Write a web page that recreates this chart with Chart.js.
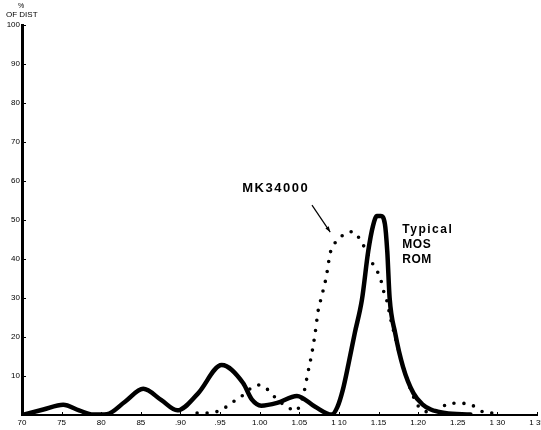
<!DOCTYPE html>
<html>
<head>
<meta charset="utf-8">
<script src="https://cdn.jsdelivr.net/npm/chart.js@4/dist/chart.umd.min.js"></script>
<style>
  html, body { margin: 0; padding: 0; background: #fff; }
  #wrap { width: 541px; height: 430px; position: relative; }
</style>
</head>
<body>
<div id="wrap"><canvas id="chart"></canvas></div>
<script>
/* ── Data ───────────────────────────────────────────────── */

// Typical MOS ROM (solid line)
const romX = [0.700, 0.727, 0.752, 0.772, 0.790, 0.807, 0.830, 0.853, 0.876, 0.896,
  0.922, 0.952, 0.979, 0.990, 1.002, 1.022, 1.047, 1.070, 1.091, 1.098, 1.105, 1.112, 1.120,
  1.129, 1.137, 1.143, 1.148, 1.153, 1.158, 1.161, 1.164, 1.171, 1.181, 1.194, 1.205,
  1.216, 1.234, 1.266];
const romY = [0, 1.4, 2.6, 1.2, 0.1, 0.2, 3.4, 6.7, 3.8, 1.2,
  5.5, 12.8, 8.2, 4.0, 2.4, 3.1, 4.9, 2.1, 0.1, 2.0, 6.5, 13, 21,
  29.5, 42, 48.5, 51, 51, 49, 42, 30, 21, 12.3, 5.6, 2.8,
  1.4, 0.5, 0.1];

// MK34000 (dotted line)
const mkX = [0.921, 0.937, 0.953, 0.966, 0.979, 0.989, 0.999, 1.009, 1.019, 1.028,
  1.037, 1.045, 1.052, 1.056, 1.061, 1.066, 1.070, 1.074, 1.077, 1.084, 1.089, 1.094,
  1.102, 1.110, 1.118, 1.126, 1.134, 1.142, 1.148, 1.153, 1.156, 1.160, 1.166, 1.171,
  1.181, 1.196, 1.202, 1.213, 1.227, 1.239, 1.253, 1.267, 1.282, 1.293, 1.300];
const mkY = [0.5, 0.5, 1.5, 3.3, 5.1, 6.9, 7.7, 6.7, 4.6, 3.0,
  1.8, 1.0, 3.1, 5.9, 11, 16, 21, 27, 29.5, 35.4, 41.5, 43.8,
  45.6, 46.7, 47, 45.2, 42.3, 39, 37, 34.6, 32, 29.7, 24, 20,
  12.3, 3.8, 1.8, 0.8, 1.5, 3.0, 3.0, 2.6, 0.8, 0.5, 1.3];

// Axis ticks
const xTicks = [0.70, 0.75, 0.80, 0.85, 0.90, 0.95, 1.00, 1.05, 1.10, 1.15, 1.20, 1.25, 1.30, 1.35];
const xTickLabels = ['70', '75', '80', '85', '.90', '.95', '1.00', '1.05', '1 10', '1.15', '1.20', '1.25', '1 30', '1 35'];
const yTicks = [10, 20, 30, 40, 50, 60, 70, 80, 90, 100];

/* ── Helpers ─────────────────────────────────────────────── */

const FONT = '"Liberation Sans", Arial, Helvetica, sans-serif';

function toPoints(xs, ys) {
  return xs.map((x, i) => ({ x, y: ys[i] }));
}

function fixedSize(prop, size) {
  return (scale) => {
    scale[prop] = size;
    scale.paddingLeft = 0;
    scale.paddingRight = 0;
    scale.paddingTop = 0;
    scale.paddingBottom = 0;
  };
}

// Inward tick marks, title, series labels and arrow
const labelPlugin = {
  id: 'labels',
  afterDraw(chart) {
    const { ctx, chartArea, scales: { x, y } } = chart;
    ctx.save();
    ctx.fillStyle = '#000';
    ctx.strokeStyle = '#000';
    ctx.lineWidth = 1;

    // tick marks pointing into the plot
    ctx.beginPath();
    yTicks.forEach(v => {
      const py = Math.round(y.getPixelForValue(v)) + 0.5;
      ctx.moveTo(chartArea.left, py);
      ctx.lineTo(chartArea.left + 4, py);
    });
    xTicks.forEach(v => {
      const px = Math.round(x.getPixelForValue(v)) + 0.5;
      ctx.moveTo(px, chartArea.bottom);
      ctx.lineTo(px, chartArea.bottom - 3);
    });
    ctx.stroke();

    ctx.textBaseline = 'alphabetic';

    // y-axis title
    ctx.font = `7px ${FONT}`;
    ctx.textAlign = 'center';
    ctx.fillText('%', 21, 8);
    ctx.font = `8px ${FONT}`;
    ctx.textAlign = 'left';
    ctx.fillText('OF DIST', 6, 17);

    // MK34000
    ctx.font = `bold 13px ${FONT}`;
    ctx.letterSpacing = '1.5px';
    ctx.fillText('MK34000', x.getPixelForValue(0.978), y.getPixelForValue(57.2));

    // Typical MOS ROM
    ctx.font = `bold 12px ${FONT}`;
    const tx = x.getPixelForValue(1.18);
    ctx.letterSpacing = '1.5px';
    ctx.fillText('Typical', tx, y.getPixelForValue(46.7));
    ctx.letterSpacing = '0.5px';
    ctx.fillText('MOS', tx, y.getPixelForValue(42.8));
    ctx.fillText('ROM', tx, y.getPixelForValue(39.0));
    ctx.letterSpacing = '0px';

    // arrow
    const x1 = x.getPixelForValue(1.066), y1 = y.getPixelForValue(53.8);
    const x2 = x.getPixelForValue(1.089), y2 = y.getPixelForValue(46.9);
    ctx.lineWidth = 1.2;
    ctx.beginPath();
    ctx.moveTo(x1, y1);
    ctx.lineTo(x2, y2);
    ctx.stroke();
    const a = Math.atan2(y2 - y1, x2 - x1);
    ctx.beginPath();
    ctx.moveTo(x2, y2);
    ctx.lineTo(x2 - 6 * Math.cos(a - 0.35), y2 - 6 * Math.sin(a - 0.35));
    ctx.lineTo(x2 - 6 * Math.cos(a + 0.35), y2 - 6 * Math.sin(a + 0.35));
    ctx.closePath();
    ctx.fill();
    ctx.restore();
  },
};

/* ── Chart ───────────────────────────────────────────────── */

Chart.defaults.font.family = FONT;
Chart.defaults.color = '#000';

// eslint-disable-next-line no-undef
new Chart(document.getElementById('chart'), {
  type: 'line',
  data: {
    datasets: [
      {
        label: 'Typical MOS ROM',
        data: toPoints(romX, romY),
        borderColor: '#000',
        borderWidth: 4.5,
        pointRadius: 0,
        cubicInterpolationMode: 'monotone',
        borderCapStyle: 'round',
        borderJoinStyle: 'round',
      },
      {
        label: 'MK34000',
        data: toPoints(mkX, mkY),
        borderColor: '#000',
        borderWidth: 3.6,
        borderDash: [0, 10],
        borderCapStyle: 'round',
        pointRadius: 0,
        cubicInterpolationMode: 'monotone',
      },
    ],
  },
  options: {
    responsive: true,
    maintainAspectRatio: false,
    animation: false,
    layout: { padding: { left: 0, top: 25, right: 4, bottom: 0 } },
    plugins: {
      legend: { display: false },
      tooltip: { enabled: false },
    },
    scales: {
      x: {
        type: 'linear',
        min: 0.70,
        max: 1.35,
        afterFit: fixedSize('height', 15),
        afterBuildTicks: (scale) => { scale.ticks = xTicks.map(v => ({ value: v })); },
        ticks: {
          autoSkip: false,
          maxRotation: 0,
          padding: 3,
          font: { size: 8 },
          callback: (v, i) => xTickLabels[i],
        },
        grid: { display: true, drawOnChartArea: false, drawTicks: false, tickLength: 0 },
        border: { display: true, color: '#000', width: 2 },
      },
      y: {
        min: 0,
        max: 100,
        afterFit: fixedSize('width', 22),
        afterBuildTicks: (scale) => { scale.ticks = yTicks.map(v => ({ value: v })); },
        ticks: {
          padding: 2,
          font: { size: 8 },
        },
        grid: { display: true, drawOnChartArea: false, drawTicks: false, tickLength: 0 },
        border: { display: true, color: '#000', width: 3 },
      },
    },
  },
  plugins: [labelPlugin],
});
</script>
</body>
</html>
